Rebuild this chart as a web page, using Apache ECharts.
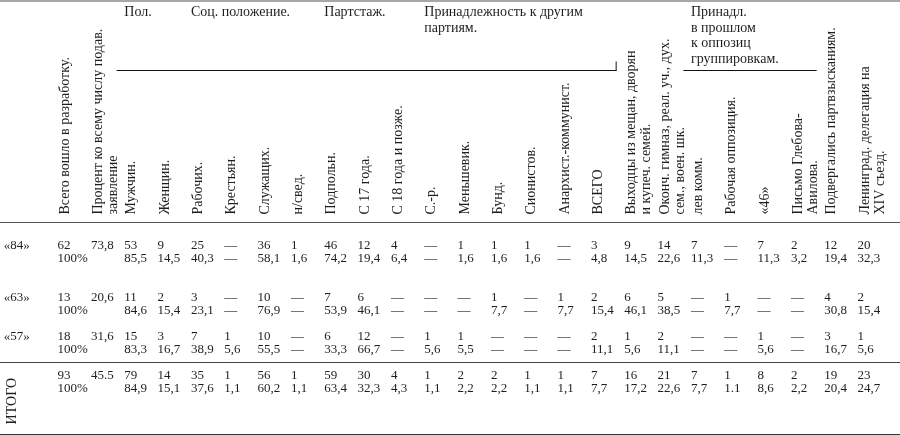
<!DOCTYPE html>
<html>
<head>
<meta charset="utf-8">
<script src="https://cdn.jsdelivr.net/npm/echarts@6/dist/echarts.min.js"></script>
<style>
html, body { margin: 0; padding: 0; background: #ffffff; }
#c { width: 900px; height: 435px; }
</style>
</head>
<body>
<div id="c"></div>
<script>
// ---------- table content ----------
const columnHeaders = [
  'Всего вошло в разработку.',
  'Процент ко всему числу подав.\nзаявление',
  'Мужчин.', 'Женщин.',
  'Рабочих.', 'Крестьян.', 'Служащих.', 'н/свед.',
  'Подпольн.', 'С 17 года.', 'С 18 года и позже.',
  'С.-р.', 'Меньшевик.', 'Бунд.', 'Сионистов.', 'Анархист.-коммунист.', 'ВСЕГО',
  'Выходцы из мещан, дворян\nи купеч. семей.',
  'Оконч. гимназ, реал. уч., дух.\nсем., воен. шк.',
  'лев комм.', 'Рабочая оппозиция.', '«46»', 'Письмо Глебова-\nАвилова.',
  'Подвергались партвзысканиям.',
  'Ленинград. делегация на\nXIV съезд.'
];
const groupHeaders = ['Пол.', 'Соц. положение.', 'Партстаж.', 'Принадлежность к другим\nпартиям.', 'Принадл.\nв прошлом\nк оппозиц\nгруппировкам.'];
const groupFirstColumn = [2, 4, 8, 11, 19];
const groupRuleSpans = [[2, 16], [19, 22]];

const rowLabels = ['«84»', '', '«63»', '', '«57»', '', 'ИТОГО', ''];

const row84 = ['62', '73,8', '53', '9', '25', '—', '36', '1', '46', '12', '4', '—', '1', '1', '1', '—', '3', '9', '14', '7', '—', '7', '2', '12', '20'];
const row84pct = ['100%', '', '85,5', '14,5', '40,3', '—', '58,1', '1,6', '74,2', '19,4', '6,4', '—', '1,6', '1,6', '1,6', '—', '4,8', '14,5', '22,6', '11,3', '—', '11,3', '3,2', '19,4', '32,3'];
const row63 = ['13', '20,6', '11', '2', '3', '—', '10', '—', '7', '6', '—', '—', '—', '1', '—', '1', '2', '6', '5', '—', '1', '—', '—', '4', '2'];
const row63pct = ['100%', '', '84,6', '15,4', '23,1', '—', '76,9', '—', '53,9', '46,1', '—', '—', '—', '7,7', '—', '7,7', '15,4', '46,1', '38,5', '—', '7,7', '—', '—', '30,8', '15,4'];
const row57 = ['18', '31,6', '15', '3', '7', '1', '10', '—', '6', '12', '—', '1', '1', '—', '—', '—', '2', '1', '2', '—', '—', '1', '—', '3', '1'];
const row57pct = ['100%', '', '83,3', '16,7', '38,9', '5,6', '55,5', '—', '33,3', '66,7', '—', '5,6', '5,5', '—', '—', '—', '11,1', '5,6', '11,1', '—', '—', '5,6', '—', '16,7', '5,6'];
const rowTotal = ['93', '45.5', '79', '14', '35', '1', '56', '1', '59', '30', '4', '1', '2', '2', '1', '1', '7', '16', '21', '7', '1', '8', '2', '19', '23'];
const rowTotalPct = ['100%', '', '84,9', '15,1', '37,6', '1,1', '60,2', '1,1', '63,4', '32,3', '4,3', '1,1', '2,2', '2,2', '1,1', '1,1', '7,7', '17,2', '22,6', '7,7', '1.1', '8,6', '2,2', '20,4', '24,7'];

const tableRows = [row84, row84pct, row63, row63pct, row57, row57pct, rowTotal, rowTotalPct];

// ---------- layout (row slots incl. blank spacer slots) ----------
const yCats = ['g0', 'r0', 'r1', 'g1', 'g2', 'r2', 'r3', 'g3', 'r4', 'r5', 'g4', 'r6', 'r7', 'g5', 'g6', 'g7'];
const separatorSlot = 'g4';

const FONT = "'Liberation Serif', 'Times New Roman', serif";
const INK = '#1e1e1e';
const PAD = 7.6;

const xCats = [''].concat(columnHeaders, ['']);
const groupAxis = xCats.map(() => '');
groupFirstColumn.forEach((c, g) => { groupAxis[c + 1] = groupHeaders[g]; });

const cellData = [], cellText = [];
tableRows.forEach((vals, r) => {
  const y = yCats.indexOf('r' + r);
  vals.forEach((v, j) => {
    if (v !== '') { cellData.push([j + 1, y]); cellText.push(v); }
  });
});
const labelData = [], labelText = [];
rowLabels.forEach((t, r) => {
  if (t) { labelData.push([0, yCats.indexOf('r' + r)]); labelText.push(t); }
});

const chart = echarts.init(document.getElementById('c'), null, { renderer: 'canvas' });

const hiddenCat = {
  type: 'category', boundaryGap: true, axisTick: { show: false },
  axisLabel: { show: false }, splitLine: { show: false }
};

chart.setOption({
  animation: false,
  backgroundColor: '#ffffff',
  textStyle: { fontFamily: FONT, color: INK },
  grid: [
    { left: 0, right: 0, top: 1, height: 221.5, outerBoundsMode: 'none', containLabel: false },
    { left: 0, right: 0, top: 226, bottom: 1, outerBoundsMode: 'none', containLabel: false }
  ],
  xAxis: [
    Object.assign({}, hiddenCat, {
      gridIndex: 0, position: 'top', data: groupAxis,
      axisLine: { show: true, onZero: false, lineStyle: { color: '#8a8a8a', width: 1.5 } },
      axisLabel: {
        show: true, inside: true, interval: 0, hideOverlap: false, margin: 4,
        align: 'left', verticalAlign: 'top', padding: [0, 0, 0, PAD],
        fontFamily: FONT, fontSize: 14, lineHeight: 15.5, color: INK
      }
    }),
    Object.assign({}, hiddenCat, {
      gridIndex: 0, position: 'bottom', data: xCats,
      axisLine: { show: true, onZero: false, lineStyle: { color: '#555555', width: 1 } },
      axisLabel: {
        show: true, inside: true, rotate: 90, interval: 0, hideOverlap: false, margin: 8,
        align: 'left', verticalAlign: 'top', padding: [PAD, 0, 0, 0],
        fontFamily: FONT, fontSize: 14, lineHeight: 15, color: INK
      }
    }),
    Object.assign({}, hiddenCat, {
      gridIndex: 1, position: 'bottom', data: xCats,
      axisLine: { show: true, onZero: false, lineStyle: { color: '#333333', width: 1 } }
    })
  ],
  yAxis: [
    { gridIndex: 0, type: 'value', min: 0, max: 221.5, inverse: true, show: false },
    { gridIndex: 1, type: 'category', data: yCats, inverse: true, show: false }
  ],
  series: [
    {
      type: 'custom', name: 'groupRules', xAxisIndex: 1, yAxisIndex: 0, silent: true,
      data: groupRuleSpans.map(s => [s[0] + 1, s[1] + 2]),
      renderItem: (params, api) => {
        const a = api.coord([api.value(0), 69.5]);
        const b = api.coord([api.value(1), 69.5]);
        const children = [{
          type: 'line', shape: { x1: a[0], y1: a[1], x2: b[0], y2: b[1] },
          style: { stroke: '#111111', lineWidth: 1 }
        }];
        if (params.dataIndex === 0) {
          children.push({
            type: 'line', shape: { x1: b[0] - 0.5, y1: b[1], x2: b[0] - 0.5, y2: b[1] - 9 },
            style: { stroke: '#111111', lineWidth: 1 }
          });
        }
        return { type: 'group', children };
      }
    },
    {
      type: 'custom', name: 'separator', xAxisIndex: 2, yAxisIndex: 1, silent: true,
      data: [[0, yCats.indexOf(separatorSlot)]],
      renderItem: (params, api) => {
        const y = api.coord([0, api.value(1)])[1];
        const cs = params.coordSys;
        return {
          type: 'line', shape: { x1: cs.x, y1: y, x2: cs.x + cs.width, y2: y },
          style: { stroke: '#444444', lineWidth: 1 }
        };
      }
    },
    {
      type: 'custom', name: 'cells', xAxisIndex: 2, yAxisIndex: 1, silent: true,
      data: cellData,
      renderItem: (params, api) => {
        const p = api.coord([api.value(0), api.value(1)]);
        return {
          type: 'text', x: p[0] + PAD, y: p[1],
          style: {
            text: cellText[params.dataIndex], font: '13px ' + FONT, fill: INK,
            align: 'left', verticalAlign: 'middle'
          }
        };
      }
    },
    {
      type: 'custom', name: 'rowLabels', xAxisIndex: 2, yAxisIndex: 1, silent: true,
      data: labelData,
      renderItem: (params, api) => {
        const p = api.coord([api.value(0), api.value(1)]);
        const t = labelText[params.dataIndex];
        if (t === 'ИТОГО') {
          return {
            type: 'text', x: p[0] - 4, y: p[1] + 2.5, rotation: Math.PI / 2,
            style: { text: t, font: '14px ' + FONT, fill: INK, align: 'right', verticalAlign: 'middle' }
          };
        }
        return {
          type: 'text', x: p[0], y: p[1],
          style: { text: t, font: '13px ' + FONT, fill: INK, align: 'center', verticalAlign: 'middle' }
        };
      }
    }
  ]
});
</script>
</body>
</html>
